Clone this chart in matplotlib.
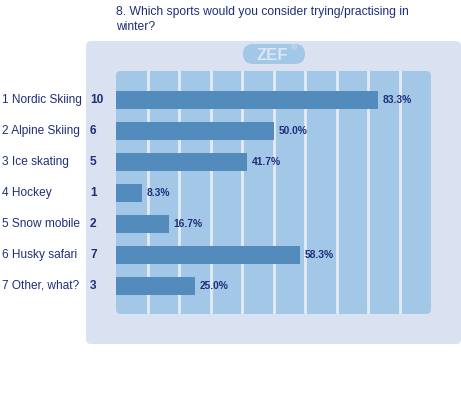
import matplotlib
matplotlib.use("Agg")
import matplotlib.pyplot as plt
from matplotlib.patches import FancyBboxPatch

# data
categories = ["1 Nordic Skiing", "2 Alpine Skiing", "3 Ice skating", "4 Hockey",
              "5 Snow mobile", "6 Husky safari", "7 Other, what?"]
counts = [10, 6, 5, 1, 2, 7, 3]
percents = [83.3, 50.0, 41.7, 8.3, 16.7, 58.3, 25.0]
title_lines = ["8. Which sports would you consider trying/practising in", "winter?"]

W, H = 461, 403
TEXT = "#1f2f7a"
BAR = "#548bbd"
INNER = "#a3c7e7"
OUTER = "#dae1f0"

plt.rcParams["font.family"] = ["Liberation Sans", "DejaVu Sans"]

fig = plt.figure(figsize=(W / 100, H / 100), dpi=100)
bg = fig.add_axes([0, 0, 1, 1])
bg.set_xlim(0, W)
bg.set_ylim(H, 0)
bg.axis("off")

# panels
bg.add_patch(FancyBboxPatch((89, 44), 369, 297, boxstyle="round,pad=3,rounding_size=5",
                            fc=OUTER, ec="none"))
bg.add_patch(FancyBboxPatch((119, 74), 309, 237, boxstyle="round,pad=3,rounding_size=5",
                            fc=INNER, ec="none"))
# ZEF badge
bg.add_patch(FancyBboxPatch((243, 44), 62, 20, boxstyle="round,pad=0,rounding_size=10",
                            fc=INNER, ec="none"))
bg.text(272.5, 55, "ZEF", color="#dde7f4", fontsize=12, fontweight="bold",
        ha="center", va="center")
bg.text(293.5, 48.5, "®", color="#dde7f4", fontsize=6, ha="center", va="center")

for i, line in enumerate(title_lines):
    bg.text(116, 12 + 15 * i, line, color=TEXT, fontsize=8.7, ha="left", va="center")

# bar axes: x in percent, inner panel spans 0..100
x0, x1, y0, y1 = 116, 431, 71, 314
ax = fig.add_axes([x0 / W, 1 - y1 / H, (x1 - x0) / W, (y1 - y0) / H])
ax.patch.set_alpha(0)
ax.set_xlim(0, 100)
ax.set_ylim((y1 - 100) / 31, (y0 - 100) / 31)
for s in ax.spines.values():
    s.set_visible(False)
ax.set_xticks([])
ax.set_yticks([])
for g in range(10, 100, 10):
    ax.axvline(g, color="#e4ebf5", lw=2, zorder=1)

ypos = list(range(len(categories)))
ax.barh(ypos, percents, height=0.58, color=BAR, zorder=2)
for y, p in zip(ypos, percents):
    ax.text(p + 1.5, y, f"{p:.1f}%", color=TEXT, fontsize=7.4, fontweight="bold",
            ha="left", va="center")

for y, cat, c in zip(ypos, categories, counts):
    py = 100 + 31 * y
    bg.text(2, py, cat, color=TEXT, fontsize=8.6, ha="left", va="center")
    bg.text(90, py, str(c), color=TEXT, fontsize=8.6, fontweight="bold", ha="left", va="center")

fig.savefig("out.png", dpi=100)
